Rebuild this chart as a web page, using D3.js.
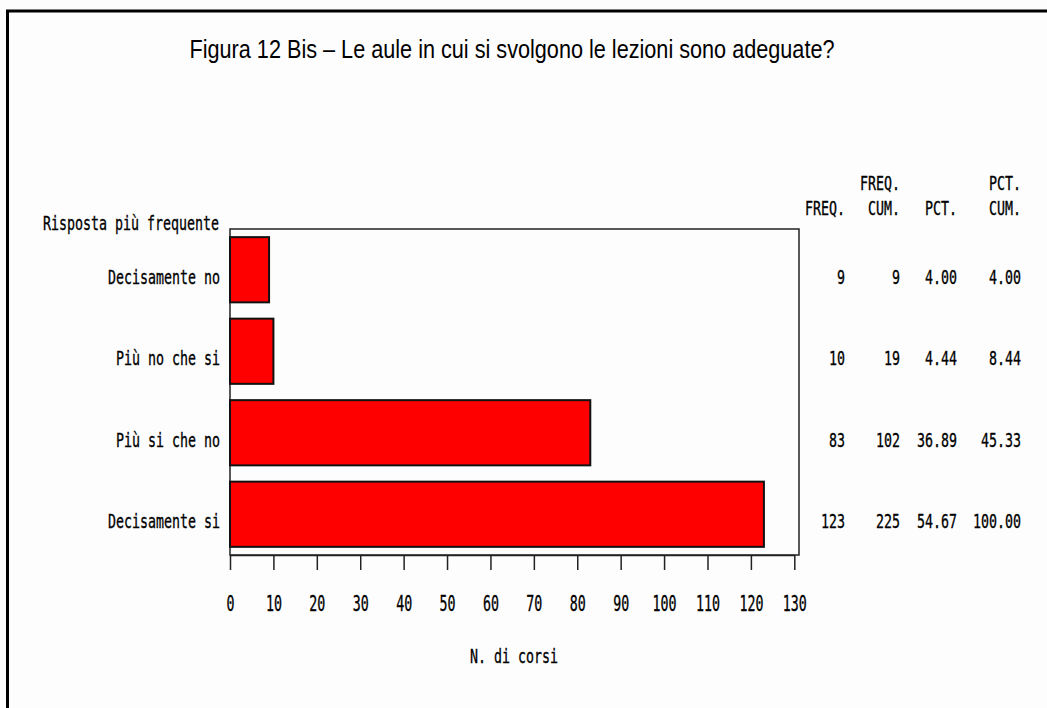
<!DOCTYPE html>
<html>
<head>
<meta charset="utf-8">
<script src="https://cdn.jsdelivr.net/npm/d3@7"></script>
<style>
  html, body { margin: 0; padding: 0; background: #fdfdfd; }
  svg { display: block; }
  text { font-family: "DejaVu Sans Mono", monospace; fill: #000; }
</style>
</head>
<body>
<svg id="chart" width="1047" height="708"></svg>
<script>
const categories = ["Decisamente no", "Più no che si", "Più si che no", "Decisamente si"];
const freq = [9, 10, 83, 123];
const freqCum = [9, 19, 102, 225];
const pct = ["4.00", "4.44", "36.89", "54.67"];
const pctCum = ["4.00", "8.44", "45.33", "100.00"];
const xTicks = [0, 10, 20, 30, 40, 50, 60, 70, 80, 90, 100, 110, 120, 130];
const title = "Figura 12 Bis – Le aule in cui si svolgono le lezioni sono adeguate?";
const yTitle = "Risposta più frequente";
const xTitle = "N. di corsi";
const tableHeaders = [["", "FREQ."], ["FREQ.", "CUM."], ["", "PCT."], ["PCT.", "CUM."]];

const svg = d3.select("#chart");
const CW = 8; // monospace advance per char

function mono(sel, str, anchor, size) {
  sel.text(str)
     .attr("font-size", size)
     .attr("text-anchor", anchor)
     .attr("stroke", "#000").attr("stroke-width", 0.35)
     .attr("textLength", str.length * CW)
     .attr("lengthAdjust", "spacingAndGlyphs");
  return sel;
}

// outer border
svg.append("rect").attr("x", 7.5).attr("y", 11).attr("width", 1200).attr("height", 900)
  .attr("fill", "none").attr("stroke", "#000").attr("stroke-width", 3);

// title
svg.append("text").attr("x", 512).attr("y", 58)
  .attr("text-anchor", "middle")
  .style("font-family", "'Liberation Sans', Arial, sans-serif")
  .attr("font-size", 26)
  .attr("textLength", 645).attr("lengthAdjust", "spacingAndGlyphs")
  .text(title);

const plotLeft = 230, plotTop = 229, plotBottom = 555, frameRight = 799;
const x = d3.scaleLinear().domain([0, 130]).range([230, 794.3]);
const y = d3.scaleBand().domain(categories).range([plotTop, plotBottom]).paddingInner(0.2).paddingOuter(0.1);

// frame
svg.append("rect").attr("x", plotLeft).attr("y", plotTop).attr("width", frameRight - plotLeft).attr("height", plotBottom - plotTop)
  .attr("fill", "none").attr("stroke", "#222").attr("stroke-width", 1.5);

// bars
svg.selectAll("rect.bar").data(categories).enter().append("rect")
  .attr("class", "bar")
  .attr("x", x(0))
  .attr("y", d => y(d))
  .attr("width", (d, i) => x(freq[i]) - x(0))
  .attr("height", y.bandwidth())
  .attr("fill", "#ff0000").attr("stroke", "#111").attr("stroke-width", 2);

// x axis
const xAxis = d3.axisBottom(x).tickValues(xTicks).tickSize(15).tickSizeOuter(0).tickFormat(d3.format("d"));
const gx = svg.append("g").attr("transform", `translate(0,${plotBottom})`).call(xAxis);
gx.select(".domain").attr("stroke", "#222").attr("stroke-width", 1.5);
gx.selectAll(".tick line").attr("stroke", "#222").attr("stroke-width", 1.5);
gx.selectAll(".tick text").each(function(d) {
  const s = String(d);
  d3.select(this).attr("y", 0).attr("dy", 0)
    .attr("transform", "translate(0,56)")
    .attr("fill", "#000")
    .attr("stroke", "#000").attr("stroke-width", 0.35)
    .style("font-family", "'DejaVu Sans Mono', monospace")
    .attr("font-size", 21)
    .attr("textLength", s.length * CW)
    .attr("lengthAdjust", "spacingAndGlyphs");
});

// y labels
categories.forEach((c, i) => {
  mono(svg.append("text").attr("x", 220).attr("y", y(c) + y.bandwidth() / 2 + 14), c, "end", 20);
});
mono(svg.append("text").attr("x", 43).attr("y", 230), yTitle, "start", 20);

// x title
mono(svg.append("text").attr("x", 514).attr("y", 663), xTitle, "middle", 20);

// table
const colRight = [845, 900, 957, 1021];
tableHeaders.forEach((h, j) => {
  if (h[0]) mono(svg.append("text").attr("x", colRight[j]).attr("y", 190), h[0], "end", 19);
  mono(svg.append("text").attr("x", colRight[j]).attr("y", 215), h[1], "end", 19);
});
const cols = [freq.map(String), freqCum.map(String), pct, pctCum];
categories.forEach((c, i) => {
  cols.forEach((col, j) => {
    mono(svg.append("text").attr("x", colRight[j]).attr("y", y(c) + y.bandwidth() / 2 + 14), col[i], "end", 20);
  });
});
</script>
</body>
</html>
